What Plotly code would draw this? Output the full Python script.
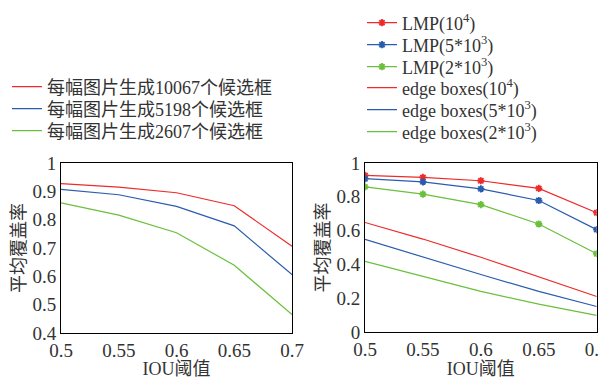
import plotly.graph_objects as go

iou = [0.5, 0.55, 0.6, 0.65, 0.7]
iou_labels = ["0.5", "0.55", "0.6", "0.65", "0.7"]

# left panel
left_names = ["每幅图片生成10067个候选框", "每幅图片生成5198个候选框", "每幅图片生成2607个候选框"]
left_red = [0.927, 0.915, 0.895, 0.849, 0.706]
left_blue = [0.907, 0.888, 0.847, 0.778, 0.606]
left_green = [0.859, 0.816, 0.754, 0.639, 0.465]

# right panel
lmp_names = ["LMP(10<sup>4</sup>)", "LMP(5*10<sup>3</sup>)", "LMP(2*10<sup>3</sup>)"]
edge_names = ["edge boxes(10<sup>4</sup>)", "edge boxes(5*10<sup>3</sup>)", "edge boxes(2*10<sup>3</sup>)"]
lmp_red = [0.927, 0.915, 0.895, 0.850, 0.706]
lmp_blue = [0.907, 0.888, 0.847, 0.778, 0.606]
lmp_green = [0.859, 0.816, 0.754, 0.639, 0.463]
edge_red = [0.648, 0.550, 0.442, 0.328, 0.210]
edge_blue = [0.548, 0.442, 0.340, 0.240, 0.151]
edge_green = [0.418, 0.328, 0.240, 0.165, 0.098]

RED, BLUE, GREEN = "#ee2a2a", "#2a5cae", "#6abf3c"
FONT = "Liberation Serif, Noto Sans CJK SC, serif"
TXT = "#333333"
# page body has an 8px margin, so the figure is sized to the visible area
W, H = 599, 371
OFF = 8

fig = go.Figure()
legend_layout = {}
k = 0


def add_legend(line_px_x, row_px_y):
    global k
    k += 1
    name = "legend" if k == 1 else f"legend{k}"
    legend_layout[name] = dict(
        x=(line_px_x - OFF - 6) / W, y=1 - (row_px_y - OFF) / H,
        xanchor="left", yanchor="middle",
        font=dict(family=FONT, size=18, color=TXT),
        bgcolor="rgba(0,0,0,0)", itemwidth=30)
    return name


left_rows = [87, 109, 131]
for name, ys, c, ry in zip(left_names, [left_red, left_blue, left_green], [RED, BLUE, GREEN], left_rows):
    lg = add_legend(13, ry)
    fig.add_trace(go.Scatter(x=iou, y=ys, name=name, mode="lines",
                             line=dict(color=c, width=1.2), xaxis="x", yaxis="y",
                             legend=lg))

right_rows = [23, 45, 67, 88, 110, 132]
for name, ys, c, ry in zip(lmp_names, [lmp_red, lmp_blue, lmp_green], [RED, BLUE, GREEN], right_rows[:3]):
    lg = add_legend(368, ry)
    fig.add_trace(go.Scatter(x=iou, y=ys, name=name, mode="lines+markers",
                             line=dict(color=c, width=1.2),
                             marker=dict(symbol="asterisk", size=6, color=c,
                                         line=dict(color=c, width=1.8)),
                             xaxis="x2", yaxis="y2", legend=lg))
for name, ys, c, ry in zip(edge_names, [edge_red, edge_blue, edge_green], [RED, BLUE, GREEN], right_rows[3:]):
    lg = add_legend(368, ry)
    fig.add_trace(go.Scatter(x=iou, y=ys, name=name, mode="lines",
                             line=dict(color=c, width=1.2),
                             xaxis="x2", yaxis="y2", legend=lg))

axis_common = dict(showline=True, linecolor="black", linewidth=1, mirror=True,
                   showgrid=False, zeroline=False, ticks="",
                   ticklabeloverflow="allow",
                   tickfont=dict(family=FONT, size=19, color=TXT))
xt = dict(text="IOU阈值", font=dict(family=FONT, size=18, color=TXT), standoff=9)
yt = dict(text="平均覆盖率", font=dict(family=FONT, size=18, color=TXT), standoff=2)


def dom_x(a, b):
    return [(a - OFF) / W, (b - OFF) / W]


def dom_y(top, bottom):
    return [1 - (bottom - OFF) / H, 1 - (top - OFF) / H]


fig.update_layout(
    width=W, height=H,
    margin=dict(l=0, r=0, t=0, b=0, autoexpand=False),
    paper_bgcolor="white", plot_bgcolor="white",
    font=dict(family=FONT, color=TXT),
    xaxis=dict(domain=dom_x(61, 292), range=[0.5, 0.7], tickvals=iou,
               ticktext=iou_labels, title=xt, anchor="y", **axis_common),
    yaxis=dict(domain=dom_y(163, 333), range=[0.4, 1.0], dtick=0.1, tick0=0.4,
               title=yt, anchor="x", **axis_common),
    xaxis2=dict(domain=dom_x(365, 596.7), range=[0.5, 0.7], tickvals=iou,
                ticktext=iou_labels, title=xt, anchor="y2", **axis_common),
    yaxis2=dict(domain=dom_y(163, 332), range=[0, 1.0], dtick=0.2, tick0=0,
                title=yt, anchor="x2", **axis_common),
    showlegend=True,
    **legend_layout,
)

fig.write_html("out.html")
